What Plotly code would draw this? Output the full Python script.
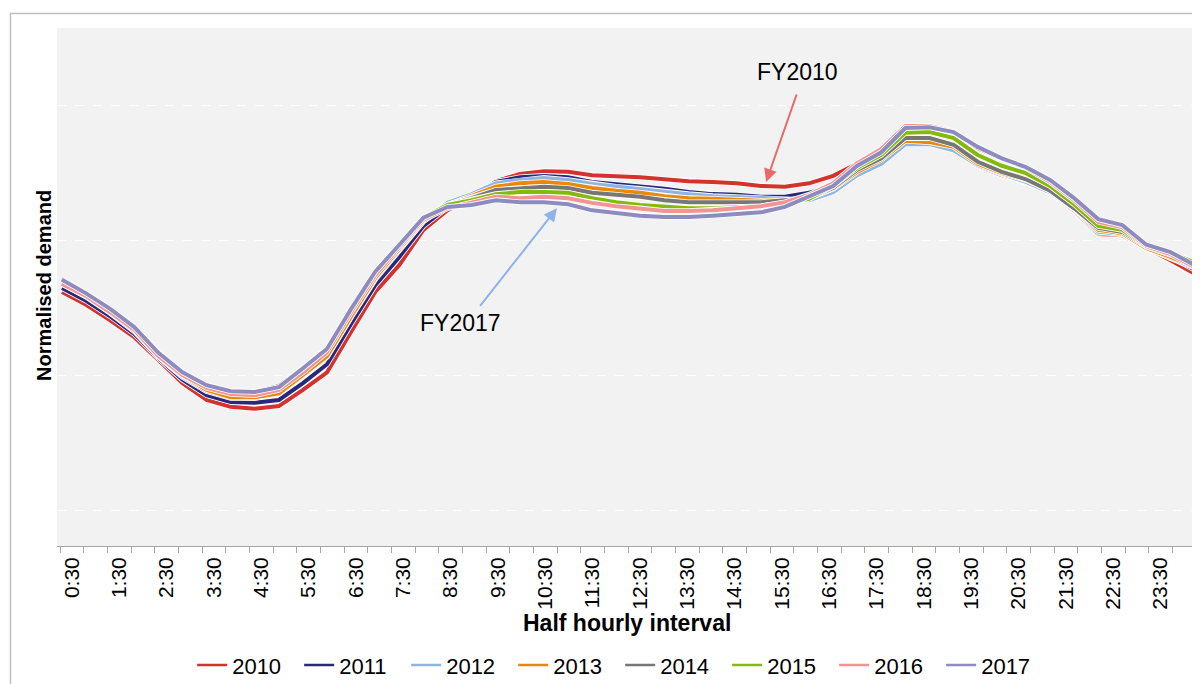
import plotly.graph_objects as go

# Half-hourly intervals (data categories)
intervals = ["0:30", "1:00", "1:30", "2:00", "2:30", "3:00", "3:30", "4:00", "4:30", "5:00",
             "5:30", "6:00", "6:30", "7:00", "7:30", "8:00", "8:30", "9:00", "9:30", "10:00",
             "10:30", "11:00", "11:30", "12:00", "12:30", "13:00", "13:30", "14:00", "14:30", "15:00",
             "15:30", "16:00", "16:30", "17:00", "17:30", "18:00", "18:30", "19:00", "19:30", "20:00",
             "20:30", "21:00", "21:30", "22:00", "22:30", "23:00", "23:30", "24:00"]

# Tick labels shown on the axis
hour_labels = ["0:30", "1:30", "2:30", "3:30", "4:30", "5:30", "6:30", "7:30", "8:30", "9:30",
               "10:30", "11:30", "12:30", "13:30", "14:30", "15:30", "16:30", "17:30", "18:30",
               "19:30", "20:30", "21:30", "22:30", "23:30"]

years = ["2010", "2011", "2012", "2013", "2014", "2015", "2016", "2017"]

fy2010 = [0.723, 0.704, 0.681, 0.656, 0.622, 0.588, 0.563, 0.553, 0.550, 0.554,
          0.578, 0.604, 0.664, 0.723, 0.763, 0.815, 0.844, 0.862, 0.887, 0.898,
          0.902, 0.901, 0.896, 0.895, 0.893, 0.890, 0.887, 0.886, 0.884, 0.880,
          0.879, 0.884, 0.895, 0.913, 0.920, 0.945, 0.945, 0.938, 0.910, 0.896,
          0.886, 0.871, 0.844, 0.809, 0.807, 0.788, 0.770, 0.750]
fy2011 = [0.729, 0.710, 0.687, 0.661, 0.625, 0.593, 0.570, 0.560, 0.559, 0.563,
          0.588, 0.616, 0.676, 0.733, 0.775, 0.821, 0.849, 0.865, 0.886, 0.893,
          0.895, 0.893, 0.886, 0.883, 0.879, 0.876, 0.871, 0.868, 0.867, 0.864,
          0.864, 0.870, 0.879, 0.902, 0.919, 0.945, 0.945, 0.938, 0.911, 0.898,
          0.887, 0.871, 0.846, 0.810, 0.809, 0.787, 0.775, 0.756]
fy2012 = [0.735, 0.716, 0.692, 0.665, 0.627, 0.597, 0.576, 0.566, 0.566, 0.572,
          0.599, 0.627, 0.686, 0.742, 0.785, 0.828, 0.855, 0.868, 0.884, 0.889,
          0.892, 0.889, 0.883, 0.879, 0.876, 0.871, 0.868, 0.865, 0.864, 0.862,
          0.861, 0.859, 0.871, 0.896, 0.913, 0.942, 0.942, 0.933, 0.911, 0.898,
          0.886, 0.871, 0.846, 0.812, 0.809, 0.788, 0.773, 0.759]
fy2013 = [0.736, 0.717, 0.693, 0.667, 0.628, 0.599, 0.578, 0.567, 0.567, 0.573,
          0.600, 0.628, 0.687, 0.744, 0.787, 0.828, 0.852, 0.865, 0.879, 0.884,
          0.886, 0.883, 0.877, 0.873, 0.870, 0.865, 0.862, 0.861, 0.859, 0.858,
          0.859, 0.862, 0.876, 0.901, 0.919, 0.947, 0.945, 0.938, 0.913, 0.899,
          0.889, 0.873, 0.847, 0.815, 0.810, 0.788, 0.775, 0.761]
fy2014 = [0.742, 0.721, 0.698, 0.671, 0.633, 0.604, 0.585, 0.576, 0.575, 0.584,
          0.610, 0.639, 0.696, 0.751, 0.791, 0.831, 0.852, 0.862, 0.874, 0.877,
          0.879, 0.877, 0.870, 0.867, 0.864, 0.859, 0.856, 0.856, 0.856, 0.856,
          0.859, 0.862, 0.877, 0.904, 0.921, 0.951, 0.951, 0.941, 0.916, 0.901,
          0.890, 0.873, 0.847, 0.818, 0.812, 0.790, 0.778, 0.767]
fy2015 = [0.739, 0.720, 0.696, 0.670, 0.631, 0.603, 0.584, 0.575, 0.573, 0.581,
          0.609, 0.637, 0.695, 0.751, 0.791, 0.833, 0.852, 0.859, 0.868, 0.871,
          0.871, 0.870, 0.862, 0.856, 0.852, 0.849, 0.847, 0.847, 0.849, 0.850,
          0.855, 0.861, 0.880, 0.907, 0.926, 0.959, 0.960, 0.951, 0.926, 0.910,
          0.899, 0.880, 0.853, 0.821, 0.815, 0.791, 0.781, 0.767]
fy2016 = [0.735, 0.717, 0.693, 0.667, 0.628, 0.600, 0.581, 0.572, 0.570, 0.578,
          0.604, 0.634, 0.693, 0.748, 0.790, 0.830, 0.847, 0.855, 0.864, 0.862,
          0.864, 0.862, 0.855, 0.850, 0.847, 0.843, 0.843, 0.844, 0.847, 0.850,
          0.856, 0.867, 0.884, 0.914, 0.935, 0.969, 0.969, 0.961, 0.936, 0.920,
          0.907, 0.886, 0.859, 0.827, 0.819, 0.791, 0.779, 0.760]
fy2017 = [0.741, 0.721, 0.698, 0.671, 0.633, 0.604, 0.585, 0.576, 0.575, 0.582,
          0.610, 0.639, 0.698, 0.753, 0.793, 0.833, 0.849, 0.852, 0.859, 0.856,
          0.856, 0.853, 0.844, 0.840, 0.836, 0.834, 0.834, 0.836, 0.839, 0.841,
          0.849, 0.864, 0.880, 0.910, 0.930, 0.966, 0.967, 0.960, 0.938, 0.921,
          0.908, 0.889, 0.862, 0.831, 0.822, 0.793, 0.782, 0.763]

series = [fy2010, fy2011, fy2012, fy2013, fy2014, fy2015, fy2016, fy2017]
colors = ["#D4322C", "#28287F", "#8DB4E2", "#E8890B", "#777777", "#84BA0C", "#F29494", "#8C8CC0"]

for s in series:
    assert len(s) == len(intervals)

FONT = "Arial, 'Liberation Sans', sans-serif"

fig = go.Figure()

# lines with thin white outline
for name, vals, col in zip(years, series, colors):
    fig.add_trace(go.Scatter(x=intervals, y=vals, mode="lines",
                             line=dict(color="white", width=5.6),
                             showlegend=False, hoverinfo="skip"))
    fig.add_trace(go.Scatter(x=intervals, y=vals, mode="lines", name=name,
                             line=dict(color=col, width=4), showlegend=False))

# legend entries (thin lines)
for name, col in zip(years, colors):
    fig.add_trace(go.Scatter(x=[None], y=[None], mode="lines", name=name,
                             line=dict(color=col, width=2.5), showlegend=True))

# tick-mark axis and label axis
fig.add_trace(go.Scatter(x=[None], y=[None], xaxis="x2", showlegend=False))
fig.add_trace(go.Scatter(x=[None], y=[None], xaxis="x3", showlegend=False))

tick_marks = list(range(len(intervals) + 1))
label_pos = [0.5 + 2 * i for i in range(len(hour_labels))]

fig.update_layout(
    width=1192, height=676,
    margin=dict(l=49, r=3, t=20, b=138, autoexpand=False),
    paper_bgcolor="white",
    plot_bgcolor="#F2F2F2",
    font=dict(family=FONT, size=21, color="black"),
    xaxis=dict(type="category", range=[-0.207, 47.1], showticklabels=False,
               ticks="", showgrid=False, showline=False, zeroline=False),
    xaxis2=dict(overlaying="x", anchor="y", side="bottom", range=[-0.127, 48.04],
                tickmode="array", tickvals=tick_marks, showticklabels=False,
                ticks="outside", ticklen=6, tickcolor="#A6A6A6", tickwidth=1,
                showline=True, linecolor="#A6A6A6", linewidth=1.2,
                showgrid=False, zeroline=False),
    xaxis3=dict(overlaying="x", anchor="y", side="bottom", range=[-0.127, 48.04],
                tickmode="array", tickvals=label_pos, ticktext=hour_labels,
                ticks="", tickangle=-90, ticklabelstandoff=6,
                tickfont=dict(family=FONT, size=21, color="black"),
                showline=False, showgrid=False, zeroline=False),
    yaxis=dict(range=[0.3467, 1.1141], tick0=0, dtick=0.2, showticklabels=False,
               showgrid=True, gridcolor="white", griddash="dash", gridwidth=1,
               zeroline=False, showline=False, ticks=""),
    legend=dict(orientation="h", x=0.494, xanchor="center", y=-0.23, yanchor="middle",
                font=dict(family=FONT, size=22, color="black"),
                bgcolor="rgba(0,0,0,0)", itemwidth=30,
                entrywidth=62, entrywidthmode="pixels"),
    showlegend=True,
)

fig.add_annotation(text="<b>Normalised demand</b>", xref="paper", yref="paper",
                   x=-0.0114, y=0.502, xanchor="center", yanchor="middle",
                   textangle=-90, showarrow=False,
                   font=dict(family=FONT, size=20, color="black"))
fig.add_annotation(text="<b>Half hourly interval</b>", xref="paper", yref="paper",
                   x=0.5, y=-0.1486, xanchor="center", yanchor="middle", showarrow=False,
                   font=dict(family=FONT, size=23, color="black"))

# FY2010 label + arrow
fig.add_annotation(text="FY2010", x=30.54, y=1.049, xref="x", yref="y", showarrow=False,
                   xanchor="center", yanchor="middle",
                   font=dict(family=FONT, size=23, color="black"))
fig.add_annotation(text="", x=29.22, y=0.886, xref="x", yref="y", ax=31, ay=-89,
                   showarrow=True, arrowhead=2, arrowsize=1.3, arrowwidth=2,
                   arrowcolor="#E8696B", standoff=0, startstandoff=0)
# FY2017 label + arrow
fig.add_annotation(text="FY2017", x=16.54, y=0.677, xref="x", yref="y", showarrow=False,
                   xanchor="center", yanchor="middle",
                   font=dict(family=FONT, size=23, color="black"))
fig.add_annotation(text="", x=20.54, y=0.847, xref="x", yref="y", ax=-78, ay=99,
                   showarrow=True, arrowhead=2, arrowsize=1.3, arrowwidth=2,
                   arrowcolor="#8DB3E8", standoff=0, startstandoff=0)

# outer chart border
fig.add_shape(type="rect", xref="paper", yref="paper", x0=-0.0408, x1=1.01, y0=-0.3, y1=1.028,
              line=dict(color="#BFBFBF", width=1.5), fillcolor="rgba(0,0,0,0)", layer="below")

fig.write_html("out.html")
